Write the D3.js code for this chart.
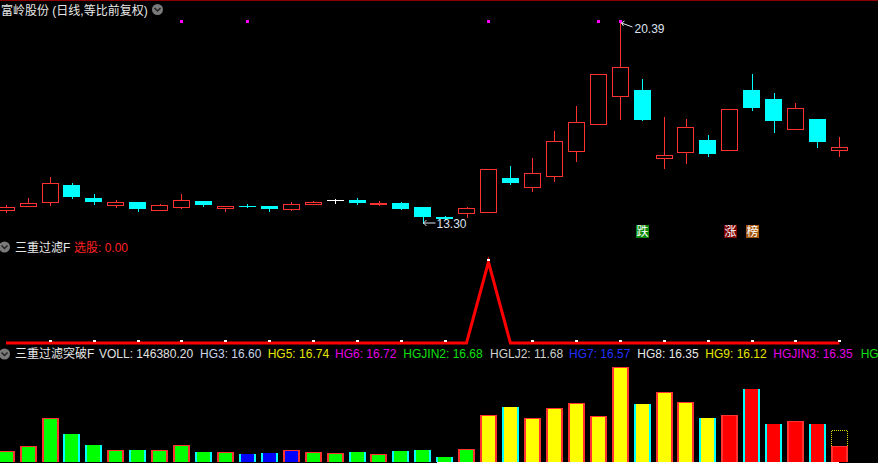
<!DOCTYPE html>
<html><head><meta charset="utf-8">
<script src="https://cdn.jsdelivr.net/npm/d3@7"></script>
<style>
html,body{margin:0;padding:0;background:#000;overflow:hidden}
svg{display:block}
text{font-family:"Liberation Sans","Noto Sans CJK SC",sans-serif;font-size:12px}
</style></head><body>
<svg id="c" width="878" height="463"></svg>
<script>
// ---------------- data ----------------
const days = [1,2,3,4,5,6,7,8,9,10,11,12,13,14,15,16,17,18,19,20,21,22,23,24,25,26,27,28,29,30,31,32,33,34,35,36,37,38,39];
const open  = [13.75,13.89,14.03,14.62,14.16,13.93,14.02,13.75,13.86,14.06,13.82,13.88,13.88,13.79,13.95,14.08,14.09,13.98,13.99,13.85,13.49,13.63,13.66,14.87,14.54,14.93,15.81,16.76,17.75,17.96,15.56,15.78,16.21,15.85,17.97,17.66,16.61,16.95,15.85];
const close = [13.84,13.99,14.69,14.20,14.02,14.02,13.79,13.91,14.09,13.93,13.88,13.85,13.78,13.95,14.02,14.08,14.00,13.99,13.79,13.50,13.43,13.80,15.18,14.70,15.04,16.16,16.83,18.53,18.77,16.93,15.67,16.66,15.73,17.29,17.35,16.89,17.33,16.15,15.95];
const high  = [13.92,14.16,14.91,14.69,14.32,14.09,14.02,13.95,14.32,14.06,13.88,13.94,13.88,14.01,14.06,14.14,14.16,14.06,14.03,13.85,13.54,13.85,15.18,15.29,15.58,16.53,17.41,18.53,20.39,18.36,17.02,16.95,16.39,17.29,18.54,17.87,17.52,16.95,16.32];
const low   = [13.68,13.89,13.93,14.17,13.96,13.86,13.72,13.75,13.82,13.89,13.72,13.85,13.72,13.74,13.95,14.00,13.96,13.92,13.79,13.30,13.41,13.50,13.66,14.67,14.42,14.77,15.48,16.76,16.96,16.93,15.24,15.41,15.66,15.85,17.28,16.50,16.61,15.97,15.66];
const volume = [100600,146400,402500,256200,155500,109800,109800,109800,155500,91500,91500,73200,82300,109800,91500,82300,91500,73200,100600,109800,45700,118900,430000,503200,402500,494000,539800,420800,869200,530600,640400,548900,402500,430000,667900,347700,375100,347700,146380];
const volClass = ['g','g','g','g','g','g','g','g','g','g','g','b','b','b','g','g','g','g','g','g','g','g','y','y','y','y','y','y','y','y','y','y','y','r','r','r','r','r','r'];
const volEstimateLast = 292800;
const pickSignal = [0,0,0,0,0,0,0,0,0,0,0,0,0,0,0,0,0,0,0,0,0,0,1,0,0,0,0,0,0,0,0,0,0,0,0,0,0,0,0];
const topMarkDays = [9,12,23,28,29];
const flagDays = [30,34,35];
const flagTexts = ['跌','涨','榜'];
const titleText = '富岭股份 (日线,等比前复权)';
const midName = '三重过滤F';
const midValueText = '选股: 0.00';
const botName = '三重过滤突破F';
const indNames = ['VOLL','HG3','HG5','HG6','HGJIN2','HGLJ2','HG7','HG8','HG9','HGJIN3','HG'];
const indValues = ['146380.20','16.60','16.74','16.72','16.68','11.68','16.57','16.35','16.12','16.35',''];

// ---------------- drawing ----------------
const svg = d3.select('#c');
svg.append('rect').attr('width',878).attr('height',463).attr('fill','#000');
svg.append('line').attr('x1',0).attr('x2',878).attr('y1',0.5).attr('y2',0.5).attr('stroke','#8c0000');

const x = d3.scaleBand().domain(days).range([-4.97, 850.3]).paddingInner(0.24).paddingOuter(0.12);
const cx = d => x(d) + x.bandwidth()/2;
const yP = d3.scaleLinear().domain([13.30, 20.39]).range([222.5, 21.5]);
const yS = d3.scaleLinear().domain([0, 1]).range([343, 262]);
const yV = d3.scaleLinear().domain([0, 869200]).range([462, 367]);

const RED = '#ff3232', CYAN = '#00ffff';
const bars = days.map((d,i)=>({d,i,o:open[i],c:close[i],h:high[i],l:low[i],v:volume[i],vc:volClass[i]}));

// candles
const cg = svg.append('g');
bars.forEach(b=>{
  const up = b.c > b.o, flat = b.c === b.o;
  const col = flat ? '#ffffff' : (up ? RED : CYAN);
  const wx = Math.round(cx(b.d)) + 0.5;
  cg.append('line').attr('x1',wx).attr('x2',wx)
    .attr('y1',Math.round(yP(b.h))).attr('y2',Math.round(yP(b.l))+1)
    .attr('stroke',col).attr('stroke-width',1);
  const top = Math.round(yP(Math.max(b.o,b.c))), bot = Math.round(yP(Math.min(b.o,b.c)));
  const left = Math.round(x(b.d));
  if (flat) {
    cg.append('line').attr('x1',left).attr('x2',left+17).attr('y1',top+0.5).attr('y2',top+0.5).attr('stroke',col);
  } else if (up) {
    cg.append('rect').attr('x',left+0.5).attr('y',top+0.5).attr('width',16).attr('height',Math.max(1,bot-top))
      .attr('fill','#000').attr('stroke',col).attr('stroke-width',1);
  } else {
    cg.append('rect').attr('x',left).attr('y',top).attr('width',17).attr('height',Math.max(1,bot-top))
      .attr('fill',col);
  }
});

// top magenta marks
topMarkDays.forEach(d=>{
  svg.append('rect').attr('x',Math.round(cx(d))-1).attr('y',20).attr('width',3).attr('height',3).attr('fill','#ff00ff');
});

// high / low annotations
const hi = d3.maxIndex(high), lo = d3.minIndex(low);
const annCol = '#dde3ee';
{
  const hx = Math.round(cx(days[hi]))+0.5, hy = Math.round(yP(high[hi]));
  svg.append('path').attr('d',`M${hx+1},${hy+1}L${hx+12},${hy+5}M${hx+1},${hy+1}l3,-2M${hx+1},${hy+1}l2,3`)
    .attr('stroke',annCol).attr('fill','none').attr('stroke-dasharray',null);
  svg.append('text').attr('x',hx+14).attr('y',hy+11).attr('fill',annCol).text(high[hi].toFixed(2));
  const lx = Math.round(cx(days[lo]))+0.5, ly = Math.round(yP(low[lo]));
  svg.append('path').attr('d',`M${lx},${ly}L${lx+12},${ly}M${lx},${ly}l3,-3M${lx},${ly}l3,3`)
    .attr('stroke',annCol).attr('fill','none');
  svg.append('text').attr('x',lx+13).attr('y',ly+5).attr('fill',annCol).text(low[lo].toFixed(2));
}

// flags
const flagFill = {'跌':'#08880a','涨':'#7a0000','榜':'#a4560c'};
flagDays.forEach((d,k)=>{
  const fx = Math.round(cx(d))-6;
  svg.append('rect').attr('x',fx).attr('y',225).attr('width',13).attr('height',13).attr('fill',flagFill[flagTexts[k]]);
  svg.append('text').attr('x',fx+6.5).attr('y',236).attr('text-anchor','middle').attr('fill','#fff')
    .style('font-size','12px').text(flagTexts[k]);
});

// headers
function icon(cxp, cyp){
  svg.append('circle').attr('cx',cxp).attr('cy',cyp).attr('r',5.5).attr('fill','#7a7a7a');
  svg.append('path').attr('d',`M${cxp-3},${cyp-1.5}L${cxp},${cyp+1.5}L${cxp+3},${cyp-1.5}`)
    .attr('stroke','#222').attr('stroke-width',1.5).attr('fill','none');
}
svg.append('text').attr('x',1).attr('y',15).attr('fill','#e8e8e8').text(titleText);
icon(157.5, 9.5);

icon(4.5, 247);
svg.append('text').attr('x',15).attr('y',252).attr('fill','#e8e8e8').text(midName);
svg.append('text').attr('x',74).attr('y',252).attr('fill','#ff2020').text(midValueText);

// middle panel line
const sigLine = d3.line().x((v,i)=>cx(days[i])).y(v=>yS(v));
svg.append('path').attr('d',sigLine(pickSignal)).attr('fill','none').attr('stroke','#ff0000').attr('stroke-width',3)
  .attr('stroke-linejoin','miter');
pickSignal.forEach((v,i)=>{
  if (i>=2 && i%2===0) svg.append('rect').attr('x',Math.round(cx(days[i]))-1).attr('y',yS(v)-3).attr('width',3).attr('height',2).attr('fill','#fff');
});

// bottom header
icon(4.5, 354);
svg.append('text').attr('x',15).attr('y',358).attr('fill','#e8e8e8').text(botName);
const indX = [99,200,267.7,335,403.3,490,569,637.3,705.3,773.3,860.7];
const indCol = ['#e0e0e0','#c8d4ea','#e6e600','#e600e6','#10e010','#d0d0d0','#2030ff','#e8e8e8','#e6e600','#e600e6','#10e010'];
indNames.forEach((n,k)=>{
  svg.append('text').attr('x',indX[k]).attr('y',358).attr('fill',indCol[k])
    .text(indValues[k] ? `${n}: ${indValues[k]}` : n);
});

// volume bars
const fillMap = {g:'#00ff00', b:'#0000ff', y:'#ffff00', r:'#ff0000'};
const vg = svg.append('g');
bars.forEach(b=>{
  const up = b.c >= b.o;
  const left = Math.round(x(b.d));
  const top = Math.round(yV(b.v)), base = Math.round(yV(0));
  vg.append('rect').attr('x',left).attr('y',top).attr('width',17).attr('height',base-top).attr('fill',up?RED:CYAN);
  vg.append('rect').attr('x',left+2).attr('y',up?top+1:top).attr('width',13).attr('height',base-top-(up?1:0)).attr('fill',fillMap[b.vc]);
});
{
  const last = bars[bars.length-1];
  const left = Math.round(x(last.d));
  const t = Math.round(yV(volEstimateLast)), b2 = Math.round(yV(last.v));
  vg.append('path').attr('d',`M${left+0.5},${b2}V${t+0.5}H${left+16.5}V${b2}`)
    .attr('fill','none').attr('stroke','#d8d800').attr('stroke-dasharray','1,1');
}
svg.append('line').attr('x1',Math.round(cx(days[20]))-8).attr('x2',Math.round(cx(days[38]))).attr('y1',462.5).attr('y2',462.5).attr('stroke','#ffffff');
</script>
</body></html>
